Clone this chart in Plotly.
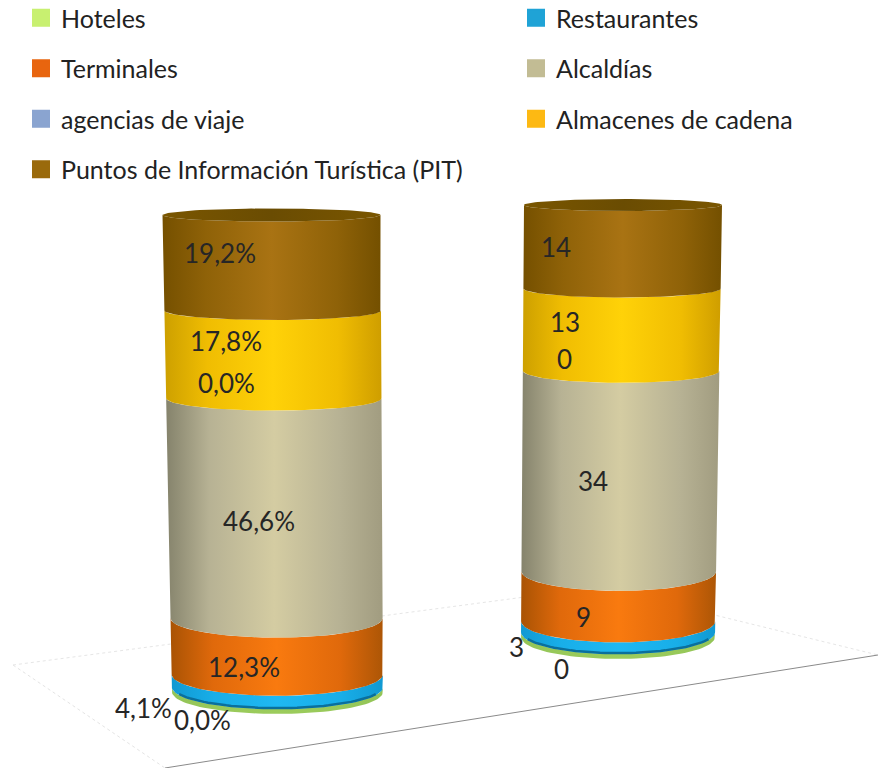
import numpy as np
import plotly.graph_objects as go

# ---------- data ----------
series = ["Hoteles", "Restaurantes", "Terminales", "Alcaldías",
          "agencias de viaje", "Almacenes de cadena",
          "Puntos de Información Turística (PIT)"]
percent_labels = ["0,0%", "4,1%", "12,3%", "46,6%", "0,0%", "17,8%", "19,2%"]
count_labels = ["0", "3", "9", "34", "0", "13", "14"]
# band heights as drawn in the picture (share of each column)
percent_heights = [1.0, 2.7, 11.8, 46.1, 0.0, 18.4, 20.0]
count_heights = [0.8, 1.9, 8.4, 33.9, 0.0, 13.9, 14.1]
legend_colors = ["#c8f070", "#1fa3d6", "#e8650f", "#c2bc94", "#8aa4d0", "#fdb913", "#9a6a0c"]
side_colors = [
    ("#93c457", "#98c95a", "#9ccc5c", "#93c457"),
    ("#1199d2", "#18aee8", "#1fb8f2", "#1199d2"),
    ("#a95304", "#e0690b", "#f97a0f", "#ad5606"),
    ("#85836c", "#b7b294", "#d4cca2", "#a19c80"),
    ("#5c78a8", "#7a94c0", "#8aa4d0", "#5c78a8"),
    ("#cda000", "#f0bd02", "#ffd208", "#cf9e00"),
    ("#755000", "#8f6208", "#a97313", "#745000"),
]

# ---------- geometry (pixels of the 878x768 page) ----------
W, H = 878, 768
X_UNIT = 343.0
X0_PX = 277.0
cols = [
    dict(axis="y", heights=percent_heights, total=100.0, base_px=692, top_px=215,
         c_bot=277.5, c_top=271.5, hw_bot=105.5, hw_top=109.0, b_bot=22.0, b_top=6.5),
    dict(axis="y2", heights=count_heights, total=73.0, base_px=637, top_px=205,
         c_bot=618.0, c_top=623.0, hw_bot=97.0, hw_top=99.0, b_bot=22.0, b_top=6.0),
]
for c in cols:
    c["scale"] = (c["base_px"] - c["top_px"]) / c["total"]


def cx(c, v):
    f = v / c["total"]
    return (c["c_bot"] + (c["c_top"] - c["c_bot"]) * f - X0_PX) / X_UNIT


def hw(c, v):
    f = v / c["total"]
    return (c["hw_bot"] + (c["hw_top"] - c["hw_bot"]) * f) / X_UNIT


def sag(c, v):
    f = v / c["total"]
    return (c["b_bot"] + (c["b_top"] - c["b_bot"]) * f) / c["scale"]


theta = np.linspace(0, np.pi, 60)


def front_arc(c, v):
    return cx(c, v) - hw(c, v) * np.cos(theta), v - sag(c, v) * np.sin(theta)


def grad(stops):
    edge_l, shoulder, mid, edge_r = stops
    return dict(type="horizontal",
                colorscale=[[0, edge_l], [0.2, shoulder], [0.5, mid], [0.8, shoulder], [1, edge_r]])


fig = go.Figure()

for c in cols:
    edges = np.concatenate([[0.0], np.cumsum(c["heights"])])
    for i, name in enumerate(series):
        if c["heights"][i] <= 0:
            continue
        lo, hi = edges[i], edges[i + 1]
        xu, yu = front_arc(c, hi)
        xl, yl = front_arc(c, lo)
        fig.add_trace(go.Scatter(
            x=np.concatenate([xu, xl[::-1], xu[:1]]),
            y=np.concatenate([yu, yl[::-1], yu[:1]]),
            yaxis=c["axis"], mode="lines", line=dict(width=0),
            fill="toself", fillgradient=grad(side_colors[i]),
            showlegend=False, name=name, hoverinfo="name"))
        if name == "Restaurantes":
            fig.add_trace(go.Scatter(
                x=xl[7:-7], y=yl[7:-7] + 1.0 / c["scale"], yaxis=c["axis"], mode="lines",
                line=dict(color="#0b6f9c", width=2.5),
                showlegend=False, hoverinfo="skip"))
    # top cap
    top = edges[-1]
    xu, yu = front_arc(c, top)
    back_y = top + sag(c, top) * np.sin(theta)
    fig.add_trace(go.Scatter(
        x=np.concatenate([xu, xu[::-1]]),
        y=np.concatenate([yu, back_y[::-1]]),
        yaxis=c["axis"], mode="lines", line=dict(width=0), fill="toself",
        fillgradient=dict(type="horizontal",
                          colorscale=[[0, "#7a5600"], [0.5, "#6a4c02"], [1, "#7a5600"]]),
        showlegend=False, hoverinfo="skip"))

# legend entries: two separate column legends
left_col = ["Hoteles", "Terminales", "agencias de viaje",
            "Puntos de Información Turística (PIT)"]
for i, name in enumerate(series):
    fig.add_trace(go.Scatter(
        x=[None], y=[None], mode="markers", name=name,
        marker=dict(symbol="square", size=16, color=legend_colors[i],
                    line=dict(width=2, color=legend_colors[i])),
        legend="legend" if name in left_col else "legend2",
        legendgroup=name))

# data labels
label_px = [
    [(202, 719.5), (143, 707.5), (244, 666.5), (259, 520.5), (226, 382.5), (226, 341.5), (220, 252.5)],
    [(561, 668.5), (516, 646.5), (583, 616.5), (593, 480.5), (564, 359.5), (565, 321.5), (556, 246.5)],
]
annotations = []
for labels, positions in zip([percent_labels, count_labels], label_px):
    for t, (px, py) in zip(labels, positions):
        annotations.append(dict(
            text=t, x=px / W, y=1 - py / H, xref="paper", yref="paper",
            showarrow=False, xanchor="center", yanchor="middle",
            font=dict(family="Lato", size=26, color="#262626")))

# floor of the 3-D chart
floor = [
    ((13, 665), (165, 768), "#e4e4e4", "dot"),
    ((13, 665), (600, 587), "#e6e6e6", "dot"),
    ((600, 587), (878, 655), "#e6e6e6", "dot"),
    ((165, 768), (878, 655), "#8a8a8a", "solid"),
]
shapes = [dict(type="line", xref="paper", yref="paper", layer="below",
               x0=a[0] / W, y0=1 - a[1] / H, x1=b[0] / W, y1=1 - b[1] / H,
               line=dict(color=col, width=1, dash=d))
          for a, b, col, d in floor]

legend_common = dict(orientation="v", xanchor="left", yanchor="top", tracegroupgap=15,
                     bgcolor="rgba(0,0,0,0)",
                     font=dict(family="Lato", size=25, color="#222222"))


def yr(c):
    return [(c["base_px"] - H) / c["scale"], c["base_px"] / c["scale"]]


hidden = dict(visible=False, showgrid=False, zeroline=False, fixedrange=True)
legend_y = 1 + 5 / H
fig.update_layout(
    width=W, height=H, margin=dict(l=0, r=0, t=0, b=0, autoexpand=False), autosize=False,
    paper_bgcolor="white", plot_bgcolor="white",
    xaxis=dict(range=[-X0_PX / X_UNIT, (W - X0_PX) / X_UNIT], **hidden),
    yaxis=dict(range=yr(cols[0]), domain=[0, 1], **hidden),
    yaxis2=dict(range=yr(cols[1]), domain=[0, 1], overlaying="y", **hidden),
    legend=dict(x=21 / W, y=legend_y, **legend_common),
    legend2=dict(x=516 / W, y=legend_y, **legend_common),
    annotations=annotations, shapes=shapes,
)

fig.write_html("out.html", config={"displayModeBar": False},
               post_script="document.body.style.margin='0';document.documentElement.style.overflow='hidden';")
